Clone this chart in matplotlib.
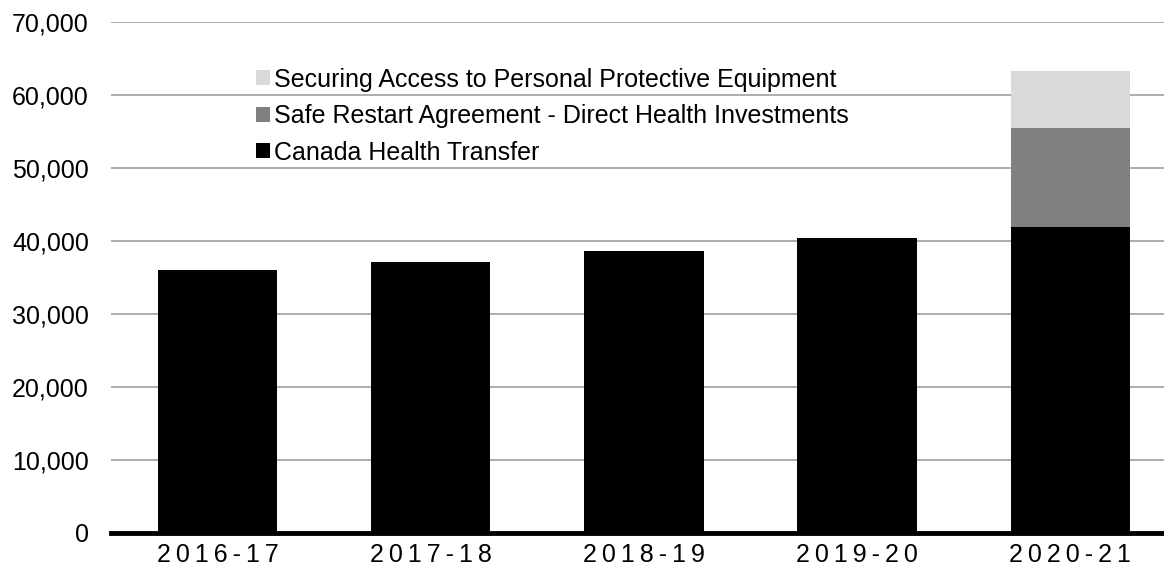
import matplotlib.pyplot as plt
from matplotlib.ticker import FuncFormatter

plt.rcParams['font.family'] = ['Liberation Sans', 'DejaVu Sans']

# data (millions of dollars)
years = ['2016-17', '2017-18', '2018-19', '2019-20', '2020-21']
cht = [36068, 37150, 38584, 40373, 41870]
safe_restart = [0, 0, 0, 0, 13660]
ppe = [0, 0, 0, 0, 7710]

labels = ['Canada Health Transfer',
          'Safe Restart Agreement - Direct Health Investments',
          'Securing Access to Personal Protective Equipment']
colors = ['#000000', '#808080', '#d9d9d9']

fig = plt.figure(figsize=(11.64, 5.73), dpi=100)
ax = fig.add_axes([111 / 1164, 40 / 573, 1 - 111 / 1164, (533 - 22) / 573])

x = range(len(years))
w = 0.56
bottom2 = [a + b for a, b in zip(cht, safe_restart)]
ax.bar(x, cht, w, color=colors[0], label=labels[0], zorder=2)
ax.bar(x, safe_restart, w, bottom=cht, color=colors[1], label=labels[1], zorder=2)
ax.bar(x, ppe, w, bottom=bottom2, color=colors[2], label=labels[2], zorder=2)

ax.set_ylim(0, 70000)
ax.set_xlim(-0.5, 4.44)
ax.set_yticks(range(0, 70001, 10000))
ax.yaxis.set_major_formatter(FuncFormatter(lambda v, p: f'{int(v):,}'))
ax.set_xticks(list(x))
# letter-spaced category labels
ax.set_xticklabels(['\u2009'.join(y) for y in years])
ax.tick_params(axis='y', length=0, pad=16, labelsize=18)
ax.tick_params(axis='x', length=0, pad=7, labelsize=18)

ax.grid(axis='y', color='#a6a6a6', linewidth=1.3, zorder=0)
for s in ['top', 'right', 'left']:
    ax.spines[s].set_visible(False)
ax.spines['bottom'].set_linewidth(3.5)
ax.spines['bottom'].set_zorder(3)

handles, labs = ax.get_legend_handles_labels()
ax.legend(handles[::-1], labs[::-1], loc='upper left',
          bbox_to_anchor=(135 / 1053, 0.93), frameon=False, fontsize=18,
          handlelength=0.55, handleheight=0.55, handletextpad=0.15,
          labelspacing=0.5, borderaxespad=0)

plt.savefig('out.png', dpi=100)
